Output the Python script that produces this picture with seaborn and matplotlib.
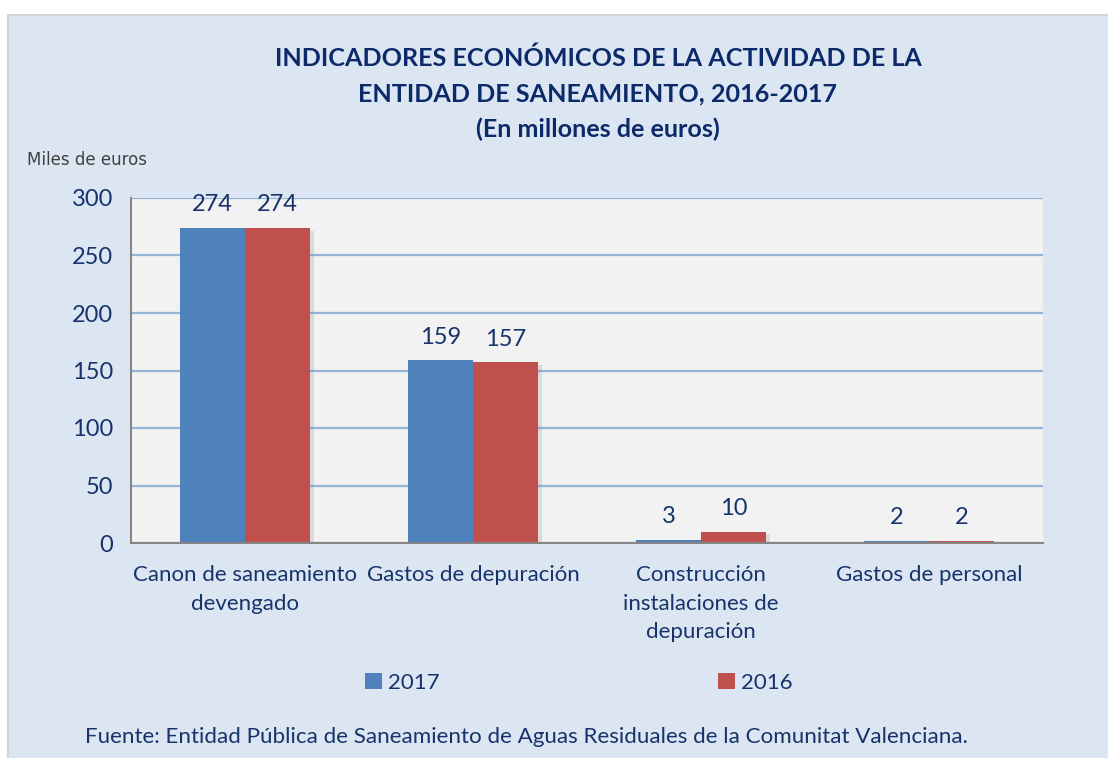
import matplotlib
matplotlib.use("Agg")
import matplotlib.pyplot as plt
import matplotlib.patches as mpatches
import matplotlib.patheffects as pe
import seaborn as sns
import pandas as pd
import numpy as np

categories = ["Canon de saneamiento\ndevengado", "Gastos de depuración",
              "Construcción\ninstalaciones de\ndepuración", "Gastos de personal"]
years = ["2017", "2016"]
values_2017 = [274, 159, 3, 2]
values_2016 = [274, 157, 10, 2]
yticks = [0, 50, 100, 150, 200, 250, 300]

df = pd.DataFrame({
    "cat": categories * 2,
    "year": [years[0]] * 4 + [years[1]] * 4,
    "val": values_2017 + values_2016,
})

sns.set_theme(style="white")
plt.rcParams["font.family"] = ["Lato", "DejaVu Sans"]

NAVY = "#17336b"
W, H = 1108, 758
fig = plt.figure(figsize=(W / 100, H / 100), dpi=100, facecolor="white")

# panel background
panel = mpatches.Rectangle((8 / W, -0.01), 1.0, 1 - 15 / H + 0.01, transform=fig.transFigure,
                           facecolor="#dce6f2", edgecolor="#d4d4d4", linewidth=1.5, zorder=-10)
fig.patches.append(panel)

ax = fig.add_axes([131 / W, 1 - 543 / H, (1043 - 131) / W, (543 - 198) / H])
ax.set_facecolor("#f2f2f2")

palette = {"2017": "#4f81bd", "2016": "#c0504d"}
sns.barplot(data=df, x="cat", y="val", hue="year", hue_order=years, palette=palette,
            width=0.57, gap=0, saturation=1, ax=ax, legend=False, zorder=3)

for bar in ax.patches:
    bar.set_linewidth(0)
    bar.set_path_effects([pe.SimplePatchShadow(offset=(3, -2), shadow_rgbFace="#8a8a8a", alpha=0.22), pe.Normal()])

for cont in ax.containers:
    ax.bar_label(cont, labels=[f"{v:.0f}" for v in cont.datavalues], padding=9,
                 fontsize=17, color=NAVY)

ax.set_ylim(0, 300)
ax.set_xlim(-0.5, 3.5)
ax.set_yticks(yticks)
ax.set_yticklabels([str(t) for t in yticks], fontsize=17, color=NAVY)
ax.yaxis.grid(True, color="#95b3d7", linewidth=1.6, zorder=0)
ax.set_axisbelow(True)

ax.set_xticks(range(4))
ax.set_xticklabels(categories, fontsize=16, color=NAVY, linespacing=1.52)
ax.tick_params(axis="x", which="major", length=0, pad=16)
ax.set_xticks(np.arange(-0.5, 4.0, 1.0), minor=True)
ax.tick_params(axis="x", which="minor", length=7, width=1.5, color="#868686", direction="out")
ax.tick_params(axis="y", which="major", length=7, width=1.5, color="#868686", direction="out", pad=6)
ax.set_xlabel("")
ax.set_ylabel("")

for s in ["top", "right"]:
    ax.spines[s].set_visible(False)
for s in ["left", "bottom"]:
    ax.spines[s].set_color("#868686")
    ax.spines[s].set_linewidth(1.5)
    ax.spines[s].set_zorder(5)

# title
fig.text(598 / W, 1 - 94 / H,
         "INDICADORES ECONÓMICOS DE LA ACTIVIDAD DE LA\nENTIDAD DE SANEAMIENTO, 2016-2017\n(En millones de euros)",
         ha="center", va="center", fontsize=18.1, fontweight="bold", color="#0c2a6a", linespacing=1.63)

fig.text(27 / W, 1 - 160 / H, "Miles de euros", ha="left", va="center", fontsize=12,
         color="#404040", family=["DejaVu Sans"])

# legend
handles = [mpatches.Patch(facecolor=palette[y], edgecolor="none", label=y) for y in years]
leg = fig.legend(handles=handles, loc="center", bbox_to_anchor=(579 / W, 1 - 683 / H), ncol=2,
                 frameon=False, fontsize=16, handlelength=0.75, handleheight=0.75,
                 handletextpad=0.3, columnspacing=12.5)
for t in leg.get_texts():
    t.set_color(NAVY)

fig.text(526 / W, 1 - 737 / H,
         "Fuente: Entidad Pública de Saneamiento de Aguas Residuales de la Comunitat Valenciana.",
         ha="center", va="center", fontsize=16.1, color=NAVY)

fig.savefig("out.png", dpi=100, facecolor="white")
